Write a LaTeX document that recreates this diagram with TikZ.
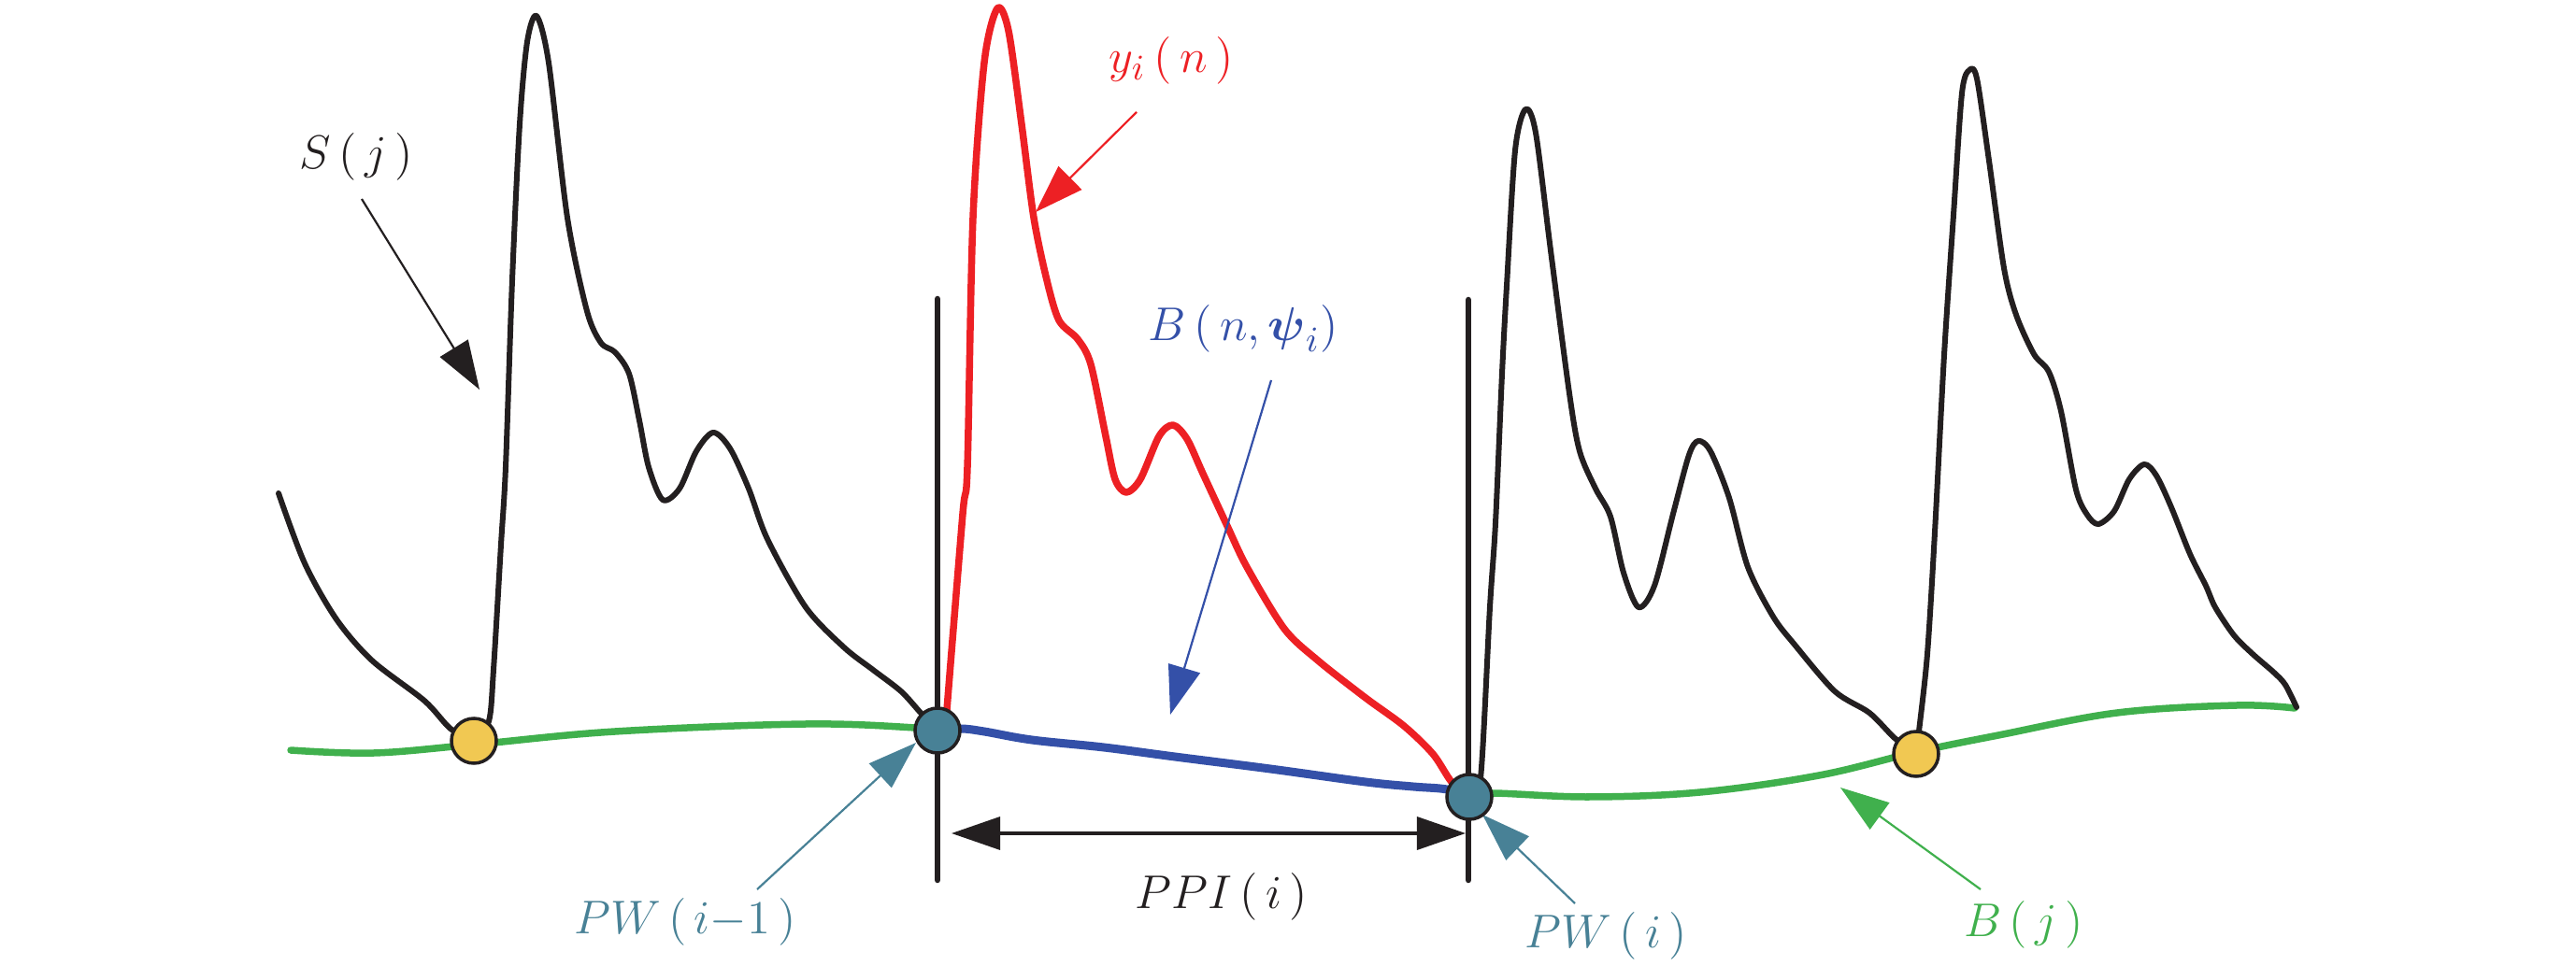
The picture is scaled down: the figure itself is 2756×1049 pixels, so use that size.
\documentclass[tikz,border=0pt]{standalone}
\usepackage{amsmath}
\usetikzlibrary{arrows.meta}
\definecolor{cblack}{RGB}{35,31,32}
\definecolor{cred}{RGB}{237,32,36}
\definecolor{cblue}{RGB}{52,80,168}
\definecolor{cgreen}{RGB}{64,176,77}
\definecolor{cteal}{RGB}{72,129,150}
\definecolor{cyellow}{RGB}{241,200,82}
\begin{document}
\begin{tikzpicture}[x=0.01cm,y=-0.01cm,
  sig/.style={line width=0.06cm, draw=cblack, line cap=round, line join=round},
  redsig/.style={line width=0.075cm, draw=cred, line cap=round, line join=round},
  bluesig/.style={line width=0.09cm, draw=cblue, line cap=round},
  greensig/.style={line width=0.075cm, draw=cgreen, line cap=round},
  marker/.style={line width=0.065cm, draw=cblack, line cap=round},
  lbl/.style={font=\fontsize{15}{18}\selectfont, inner sep=0pt},
  ptr/.style={line width=0.022cm, -{Triangle[length=0.52cm,width=0.35cm]}},
  dim/.style={line width=0.035cm, draw=cblack, {Triangle[length=0.52cm,width=0.35cm]}-{Triangle[length=0.52cm,width=0.35cm]}},
  pnode/.style={circle, draw=cblack, line width=0.035cm, fill=cteal, minimum size=0.48cm, inner sep=0pt},
  ynode/.style={circle, draw=cblack, line width=0.035cm, fill=cyellow, minimum size=0.48cm, inner sep=0pt}]
\useasboundingbox (0,0) rectangle (2756,1049);

% key points
\coordinate (Y1) at (507,793);
\coordinate (Y2) at (2050,807);
\coordinate (P1) at (1003,782);
\coordinate (P2) at (1572,853);

% baseline B(j)
\draw[greensig] plot[smooth, tension=0.6] coordinates {(311,803) (400,806) (507,797) (658,783) (862,775) (980,779) (1003,782)};
\draw[greensig] plot[smooth, tension=0.6] coordinates {(1572,853) (1596,849) (1700,853) (1819,848) (1946,830) (2050,805) (2138,787) (2265,763) (2393,755) (2455,758)};
% B(n,psi_i)
\draw[bluesig] plot[smooth, tension=0.6] coordinates {(1003,782) (1028,780) (1053,783) (1104,792) (1181,800) (1257,810) (1359,823) (1461,837) (1512,842) (1548,845) (1572,853)};

% signal S(j)
\draw[sig] plot[smooth, tension=0.5] coordinates {(298,528) (326,603) (360,663) (398,707) (454,750) (482,780) (507,793)};
\draw[sig] plot[smooth, tension=0.5] coordinates {(507,793) (523,772) (528,717) (536,583) (541,500) (548,300) (556,133) (564,45) (574,17) (587,67) (607,233) (628,333) (643,367) (658,377) (673,400) (684,450) (694,500) (709,535) (727,523) (745,483) (763,463) (781,480) (801,523) (821,577) (862,650) (903,693) (934,717) (964,740) (985,763) (1003,782)};
\draw[sig] plot[smooth, tension=0.5] coordinates {(1572,853) (1584,833) (1594,650) (1600,560) (1607,400) (1612,306) (1621,161) (1632,117) (1643,142) (1659,268) (1679,421) (1690,483) (1707,523) (1723,553) (1737,613) (1753,650) (1770,627) (1790,550) (1807,487) (1817,472) (1830,483) (1850,533) (1870,607) (1897,660) (1920,690) (1963,740) (2000,763) (2027,790) (2050,807)};
\draw[sig] plot[smooth, tension=0.5] coordinates {(2050,807) (2053,783) (2062,700) (2070,570) (2080,380) (2090,230) (2099,100) (2107,75) (2115,84) (2128,172) (2144,287) (2157,337) (2176,379) (2192,398) (2205,440) (2221,524) (2233,551) (2245,561) (2262,547) (2278,513) (2294,497) (2307,509) (2323,543) (2343,593) (2360,627) (2370,650) (2390,680) (2410,700) (2433,720) (2445,733) (2457,757)};

% segment y_i(n)
\draw[redsig] plot[smooth, tension=0.5] coordinates {(1013,760) (1030,550) (1035,500) (1041,233) (1053,67) (1067,9) (1079,33) (1093,133) (1106,233) (1120,300) (1133,343) (1153,363) (1167,390) (1183,467) (1193,513) (1205,527) (1220,513) (1240,467) (1255,455) (1270,470) (1287,507) (1313,563) (1334,607) (1374,673) (1410,707) (1461,747) (1502,777) (1533,807) (1553,837) (1572,853)};

% vertical markers
\coordinate (V1t) at (1003,320); \coordinate (V1b) at (1003,942);
\coordinate (V2t) at (1571,321); \coordinate (V2b) at (1571,942);
\draw[marker] (V1t) -- (V1b);
\draw[marker] (V2t) -- (V2b);

% PPI dimension arrow
\coordinate (D1) at (1018,892); \coordinate (D2) at (1568,892);
\draw[dim] (D1) -- (D2);

% labels
\node[lbl, text=cblack] (sj) at (381,168) {$S\,(\,j\,)$};
\node[lbl, text=cred] (yi) at (1253,65) {$y_i\,(\,n\,)$};
\node[lbl, text=cblue] (bn) at (1330,352) {$B\,(\,n,\boldsymbol{\psi}_i)$};
\node[lbl, text=cblack] (ppi) at (1307,960) {$PPI\,(\,i\,)$};
\node[lbl, text=cteal] (pwa) at (733,987) {$PW\,(\,i{-}1\,)$};
\node[lbl, text=cteal] (pwb) at (1718,1002) {$PW\,(\,i\,)$};
\node[lbl, text=cgreen] (bj) at (2165,990) {$B\,(\,j\,)$};

% pointer arrows
\coordinate (sjA) at (387,213); \coordinate (sjB) at (513,417);
\coordinate (yiA) at (1216,120); \coordinate (yiB) at (1108,227);
\coordinate (bnA) at (1360,407); \coordinate (bnB) at (1252,765);
\coordinate (pwaA) at (810,952); \coordinate (pwaB) at (980,795);
\coordinate (pwbA) at (1685,967); \coordinate (pwbB) at (1586,872);
\coordinate (bjA) at (2119,952); \coordinate (bjB) at (1969,843);
\draw[ptr, draw=cblack, fill=cblack] (sjA) -- (sjB);
\draw[ptr, draw=cred, fill=cred] (yiA) -- (yiB);
\draw[ptr, draw=cblue, fill=cblue] (bnA) -- (bnB);
\draw[ptr, draw=cteal, fill=cteal] (pwaA) -- (pwaB);
\draw[ptr, draw=cteal, fill=cteal] (pwbA) -- (pwbB);
\draw[ptr, draw=cgreen, fill=cgreen] (bjA) -- (bjB);

% points
\node[ynode] (y1) at (Y1) {};
\node[ynode] (y2) at (Y2) {};
\node[pnode] (p1) at (P1) {};
\node[pnode] (p2) at (P2) {};
\end{tikzpicture}
\end{document}
